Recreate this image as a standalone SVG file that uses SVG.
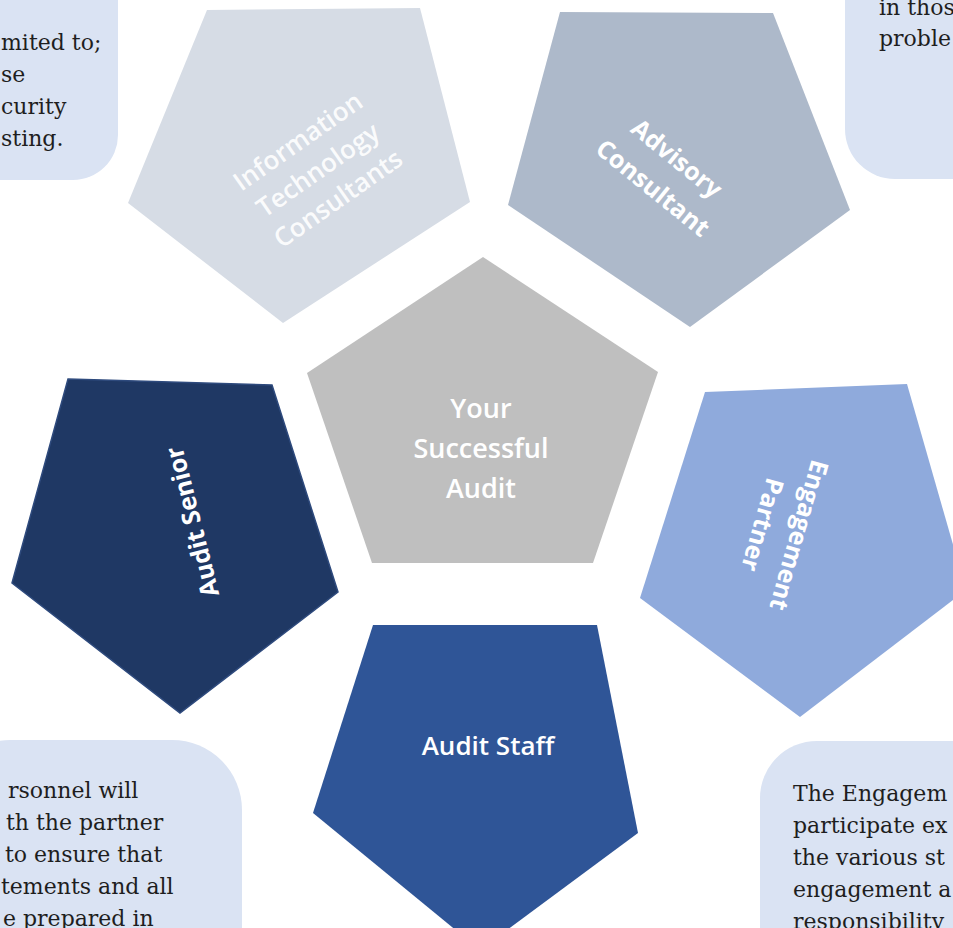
<svg xmlns="http://www.w3.org/2000/svg" width="953" height="928" viewBox="0 0 953 928">
<style>
.box{fill:#dae3f3}
.note{font-family:"DejaVu Serif","Liberation Serif",serif;font-size:22px;fill:#1e1e1e}
.lbl{font-family:"Open Sans","Liberation Sans",sans-serif;fill:#ffffff;text-anchor:middle}
.b{font-weight:700;font-size:25px}
.sb{font-weight:600;font-size:26px}
</style>
<rect width="953" height="928" fill="#ffffff"/>
<g id="note-it">
<rect class="box" x="-60" y="-60" width="178" height="240" rx="45"/>
<text class="note"><tspan x="1" y="50">mited to;</tspan><tspan x="1" y="82">se</tspan><tspan x="1" y="114">curity</tspan><tspan x="1" y="146">sting.</tspan></text>
</g>
<g id="note-advisory">
<rect class="box" x="845" y="-60" width="170" height="239" rx="50"/>
<text class="note"><tspan x="879" y="15">in thos</tspan><tspan x="879" y="46">proble</tspan></text>
</g>
<g id="note-senior">
<rect class="box" x="-60" y="740" width="302" height="260" rx="70"/>
<text class="note"><tspan x="8" y="798">rsonnel will</tspan><tspan x="6" y="830">th the partner</tspan><tspan x="5" y="862">to ensure that</tspan><tspan x="1" y="894">tements and all</tspan><tspan x="3" y="926">e prepared in</tspan></text>
</g>
<g id="note-partner">
<rect class="box" x="760" y="741" width="260" height="260" rx="57"/>
<text class="note"><tspan x="793" y="801">The Engagem</tspan><tspan x="793" y="833">participate ex</tspan><tspan x="793" y="865">the various st</tspan><tspan x="793" y="897">engagement a</tspan><tspan x="793" y="929">responsibility</tspan></text>
</g>
<g id="connectors"></g>
<g id="it-consultants">
<polygon points="207,10 420,8 470,202 283,323 128,203" fill="#d6dce5"/>
<g transform="translate(318,170) rotate(-35)" opacity="0.9">
<text class="lbl sb" x="0" y="-26">Information</text>
<text class="lbl sb" x="0" y="9">Technology</text>
<text class="lbl sb" x="0" y="44">Consultants</text>
</g>
</g>
<g id="advisory-consultant">
<polygon points="560,12 773,13 850,210 690,327 508,205" fill="#adb9ca"/>
<g transform="translate(665,173) rotate(39)">
<text class="lbl b" x="0" y="-10">Advisory</text>
<text class="lbl b" x="0" y="28">Consultant</text>
</g>
</g>
<g id="center">
<polygon points="483,257 658,372 593,563 372,563 307,373" fill="#bfbfbf"/>
<text class="lbl" font-size="27" font-weight="600"><tspan x="481" y="418">Your</tspan><tspan x="481" y="458">Successful</tspan><tspan x="481" y="498">Audit</tspan></text>
</g>
<g id="audit-senior">
<polygon points="68,379 272,385 338,592 180,713 12,583" fill="#1f3864" stroke="#2e4a7d" stroke-width="1.5"/>
<text class="lbl b" transform="translate(192,522) rotate(-104)" x="0" y="9">Audit Senior</text>
</g>
<g id="engagement-partner">
<polygon points="705,392 907,384 966,590 800,717 640,598" fill="#8faadc"/>
<g transform="translate(781,530) rotate(106)">
<text class="lbl b" x="0" y="-10">Engagement</text>
<text class="lbl b" x="0" y="28">Partner</text>
</g>
</g>
<g id="audit-staff">
<polygon points="373,625 597,625 638,833 480,950 313,813" fill="#2f5597"/>
<text class="lbl sb" x="488" y="755">Audit Staff</text>
</g>
</svg>
